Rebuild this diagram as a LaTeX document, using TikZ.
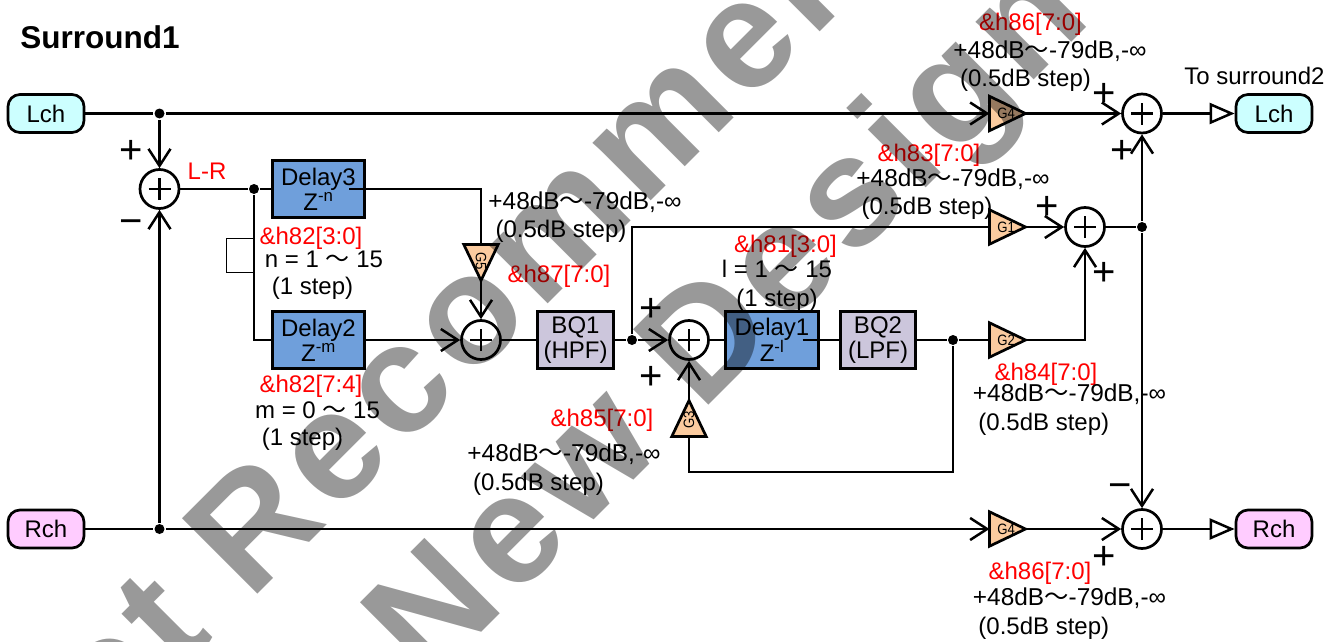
\documentclass[tikz,border=0pt]{standalone}
\usepackage{fontspec}
\setmainfont{Liberation Sans}
\newfontfamily\cjkfont{Noto Sans CJK JP}
\newfontface\wmarkfont[LetterSpace=5]{Liberation Sans Bold}
\usetikzlibrary{arrows.meta,shapes.geometric}
\definecolor{chLeft}{HTML}{CCFFFF}
\definecolor{chRight}{HTML}{FFCCFF}
\definecolor{delayBlue}{HTML}{6F9FDB}
\definecolor{bqPurple}{HTML}{CCC6DC}
\definecolor{gainOrange}{HTML}{FBCB9F}
\newcommand{\wave}{{\cjkfont ～}}
\newcommand{\gainrange}{\fontsize{24.4}{26}\selectfont+48dB\wave-79dB,-∞}
\newcommand{\gainlab}[1]{\makebox[0pt]{\hspace{22pt}#1}}

\begin{document}
\begin{tikzpicture}[x=1pt,y=-1pt,line width=2.7pt,
    lbl/.style={font=\fontsize{24}{26}\selectfont,inner sep=0pt},
    txt/.style={lbl,yshift=-1pt},
    redlbl/.style={txt,text=red},
    sgn/.style={font=\fontsize{40}{40}\selectfont,inner sep=0pt},
    chbox/.style={lbl,draw,rounded corners=12pt,minimum width=76pt,minimum height=38pt},
    delaybox/.style={lbl,draw,fill=delayBlue,minimum width=92.5pt,minimum height=57.5pt,align=center},
    bqbox/.style={lbl,draw,fill=bqPurple,minimum width=75.5pt,minimum height=57.5pt,align=center},
    gain/.style={draw,fill=gainOrange,isosceles triangle,isosceles triangle stretches,xscale=0.88,
        minimum width=34.5pt,minimum height=41pt,inner sep=0pt,outer sep=0pt,anchor=apex,font=\fontsize{15}{15}\selectfont},
    sumnode/.style={draw,circle,fill=white,minimum size=39pt,inner sep=0pt,
        path picture={\draw[line width=2.2pt] ([xshift=-11pt]path picture bounding box.center) -- ([xshift=11pt]path picture bounding box.center)
            ([yshift=-11pt]path picture bounding box.center) -- ([yshift=11pt]path picture bounding box.center);}},
    dotnode/.style={circle,fill,inner sep=0pt,minimum size=10pt},
    wire/.style={-{Straight Barb[length=17pt,width=22pt,line width=2.5pt]}},
    outwire/.style={-{Triangle[open,length=25pt,width=21pt,fill=white,line width=2.5pt]}},
    wmark/.style={rotate=45,anchor=base west,inner sep=0pt,text=black!40,font=\fontsize{155}{155}\wmarkfont}]
    \useasboundingbox (0,0) rectangle (1341,642);

    \node[font=\fontsize{31.5}{32}\selectfont\bfseries,inner sep=0pt,anchor=west] (title) at (19,37) {Surround1};
    \node[txt] (tosurround) at (1254.5,75) {To surround2};

    \node[chbox,fill=chLeft] (LchIn) at (46,113.5) {Lch};
    \node[chbox,fill=chRight] (RchIn) at (46,529) {Rch};
    \node[chbox,fill=chLeft] (LchOut) at (1274,113.5) {Lch};
    \node[chbox,fill=chRight] (RchOut) at (1274,529) {Rch};

    \node[delaybox] (Delay3) at (318.5,189) {Delay3\\[-1pt]Z\textsuperscript{-n}};
    \node[delaybox] (Delay2) at (318.5,340) {Delay2\\[-1pt]Z\textsuperscript{-m}};
    \node[delaybox] (Delay1) at (772,340) {Delay1\\[-1pt]Z\textsuperscript{-l}};
    \node[bqbox] (BQ1) at (575.5,340) {BQ1\\[-1pt](HPF)};
    \node[bqbox] (BQ2) at (878,340) {BQ2\\[-1pt](LPF)};

    \node[sumnode] (SumA) at (159.5,189) {};
    \node[sumnode] (SumB) at (481,340) {};
    \node[sumnode] (SumC) at (689,340) {};
    \node[sumnode] (SumD) at (1085,227) {};
    \node[sumnode] (SumE) at (1142,113.5) {};
    \node[sumnode] (SumF) at (1142,529) {};

    \node[gain] (GainTop) at (1025.5,113.5) {\gainlab{G4}};
    \node[gain] (GainOne) at (1025.5,227) {\gainlab{G1}};
    \node[gain] (GainTwo) at (1025.5,340) {\gainlab{G2}};
    \node[gain] (GainBot) at (1025.5,529) {\gainlab{G4}};
    \node[rotate=90,gain] (GainThree) at (689,400.5) {\gainlab{G3}};
    \node[rotate=-90,gain] (GainFive) at (481,280.5) {\gainlab{G5}};

    \node[dotnode] (dotL) at (159.5,113.5) {};
    \node[dotnode] (dotR) at (159.5,529) {};
    \node[dotnode] (dotD) at (254,189) {};
    \node[dotnode] (dotB) at (632,340) {};
    \node[dotnode] (dotF) at (953,340) {};
    \node[dotnode] (dotS) at (1142,227) {};

    \coordinate (hpfTop) at (632,227);
    \coordinate (loopL) at (254,340);
    \coordinate (d3Out) at (481,189);
    \coordinate (fbA) at (953,472);
    \coordinate (fbB) at (689,472);
    \coordinate (g2Out) at (1085,340);

    \draw (LchIn) -- (dotL);
    \draw[wire] (dotL) -- (GainTop.lower side);
    \draw[wire] (GainTop.apex) -- (SumE);
    \draw[outwire] (SumE) -- (LchOut);
    \draw (RchIn) -- (dotR);
    \draw[wire] (dotR) -- (GainBot.lower side);
    \draw[wire] (GainBot.apex) -- (SumF);
    \draw[outwire] (SumF) -- (RchOut);
    \draw[wire] (dotL) -- (SumA);
    \draw[wire] (dotR) -- (SumA);
    \draw (SumA) -- (dotD);
    \draw (dotD) -- (Delay3);
    \draw (dotD) -- (loopL) -- (Delay2);
    \draw ([xshift=-17pt]Delay3.east) -- (d3Out) -- (GainFive.lower side);
    \draw[wire] (GainFive.apex) -- (SumB);
    \draw[wire] (Delay2) -- (SumB);
    \draw (SumB) -- (BQ1);
    \draw (BQ1) -- (dotB);
    \draw[wire] (dotB) -- (SumC);
    \draw (dotB) -- (hpfTop) -- (GainOne.lower side);
    \draw (SumC) -- (Delay1);
    \draw ([xshift=-17pt]Delay1.east) -- (BQ2);
    \draw (BQ2) -- (dotF);
    \draw (dotF) -- (GainTwo.lower side);
    \draw (dotF) -- (fbA) -- (fbB) -- (GainThree.lower side);
    \draw[wire] (GainThree.apex) -- (SumC);
    \draw[wire] (GainOne.apex) -- (SumD);
    \draw[wire] (GainTwo.apex) -- (g2Out) -- (SumD);
    \draw (SumD) -- (dotS);
    \draw[wire] (dotS) -- (SumE);
    \draw[wire] (dotS) -- (SumF);

    \node[draw,line width=0.8pt,minimum width=28pt,minimum height=34pt,inner sep=0pt] (loopBox) at (240,255) {};

    \node[sgn] (sA) at (131,152) {+};
    \node[sgn] (sB) at (131,227) {−};
    \node[sgn] (sC) at (651,310) {+};
    \node[sgn] (sD) at (651,378) {+};
    \node[sgn] (sE) at (1104,95) {+};
    \node[sgn] (sF) at (1122,152) {+};
    \node[sgn] (sG) at (1047,208) {+};
    \node[sgn] (sH) at (1104,274) {+};
    \node[sgn] (sI) at (1120,491) {−};
    \node[sgn] (sJ) at (1104,558) {+};

    \node[redlbl] (lr) at (207,170) {L-R};
    \node[redlbl] (h82a) at (311,237) {\&h82[3:0]};
    \node[txt] (nrange) at (324,258) {n = 1 \wave{} 15};
    \node[txt] (nstep) at (312.5,287) {(1 step)};
    \node[redlbl] (h82b) at (311,385) {\&h82[7:4]};
    \node[txt] (mrange) at (317.5,409) {m = 0 \wave{} 15};
    \node[txt] (mstep) at (302.5,438) {(1 step)};
    \node[txt] (g5range) at (585,201) {\gainrange};
    \node[txt] (g5step) at (561,230) {(0.5dB step)};
    \node[redlbl] (h87) at (559,275) {\&h87[7:0]};
    \node[redlbl] (h85) at (602,419) {\&h85[7:0]};
    \node[txt] (g3range) at (564,453) {\gainrange};
    \node[txt] (g3step) at (538.5,483) {(0.5dB step)};
    \node[redlbl] (h81) at (785.5,245) {\&h81[3:0]};
    \node[txt] (lrange) at (777,268) {l = 1 \wave{} 15};
    \node[txt] (lstep) at (777,299) {(1 step)};
    \node[redlbl] (h86a) at (1030.5,23) {\&h86[7:0]};
    \node[txt] (g4range) at (1050,50) {\gainrange};
    \node[txt] (g4step) at (1025.5,79) {(0.5dB step)};
    \node[redlbl] (h83) at (929,154) {\&h83[7:0]};
    \node[txt] (g1range) at (953,178) {\gainrange};
    \node[txt] (g1step) at (927,207) {(0.5dB step)};
    \node[redlbl] (h84) at (1046,373) {\&h84[7:0]};
    \node[txt] (g2range) at (1069.5,393) {\gainrange};
    \node[txt] (g2step) at (1043.8,423) {(0.5dB step)};
    \node[redlbl] (h86b) at (1040,572) {\&h86[7:0]};
    \node[txt] (g4brange) at (1069.5,597) {\gainrange};
    \node[txt] (g4bstep) at (1043.8,627) {(0.5dB step)};

    \begin{scope}[blend mode=multiply]
        \node[wmark] (markA) at (20.5,831.5) {Not Recommended};
        \node[wmark] (markB) at (428,686) {New Design};
    \end{scope}
\end{tikzpicture}
\end{document}
